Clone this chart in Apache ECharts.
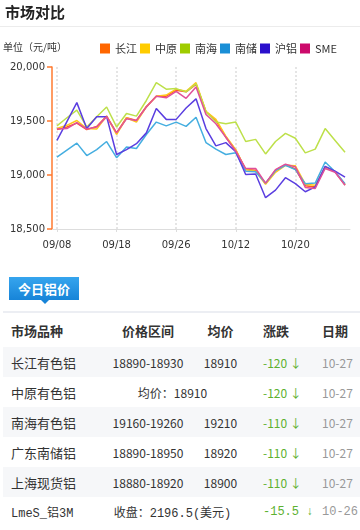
<!DOCTYPE html>
<html><head><meta charset="utf-8">
<script src="https://cdn.jsdelivr.net/npm/echarts@6/dist/echarts.min.js"></script>
<style>
body{margin:0;background:#fff;font-family:"Noto Sans CJK SC","Noto Sans",sans-serif;}
#page{position:relative;width:360px;height:530px;overflow:hidden;background:#fff;}
#chart{position:absolute;left:0;top:0;width:360px;height:262px;}
#title{position:absolute;left:5px;top:1px;font-size:15px;font-weight:bold;color:#222;line-height:22px;}
#sep{position:absolute;left:0;top:26px;width:360px;height:1px;background:#ececec;}
#unit{position:absolute;left:3px;top:40px;font-size:10px;color:#333;line-height:13px;}
#tab{position:absolute;left:9px;top:277px;width:70px;height:23px;background:linear-gradient(#36a5ee,#1784d8);color:#fff;font-weight:bold;font-size:13px;line-height:23px;text-align:center;}
#tab:after{content:"";position:absolute;left:32px;top:23px;border-left:4px solid transparent;border-right:4px solid transparent;border-top:4px solid #1784d8;}
#tline{position:absolute;left:3px;top:311px;width:357px;height:2px;background:#eceef3;}
table{position:absolute;left:3px;top:313px;width:357px;border-collapse:collapse;table-layout:fixed;}
td{padding:0;height:30px;font-size:12px;color:#333;white-space:nowrap;}
tr.head td{height:34px;font-size:13px;font-weight:bold;color:#333;}
tr.g td{background:#f6f7f9;}
td.c1{padding-left:8px;font-size:13px;}
td.c2{text-align:center;}
td.c3{text-align:center;}
td.c4{padding-left:18px;}
td.c5{padding-left:12px;}
td.up{color:#5db130;}
td.dt{color:#999;}
tr.head td.c2,tr.head td.c3{text-align:center;}
tr.mono td{font-family:"Liberation Mono","Noto Sans CJK SC",monospace;}
tr.mono td.c1{font-size:12px;}
</style></head>
<body><div id="page">
<div id="chart"></div>
<div id="title">市场对比</div>
<div id="sep"></div>
<div id="unit">单位（元/吨）</div>
<div id="tab">今日铝价</div>
<div id="tline"></div>
<table id="tbl">
<colgroup><col style="width:97px"><col style="width:96px"><col style="width:49px"><col style="width:65px"><col style="width:50px"></colgroup>
<tbody id="tb"></tbody></table>
</div>
<script>
const dates = ['09/08','09/09','09/10','09/11','09/14','09/16','09/18','09/21','09/22','09/23','09/24','09/25','09/26','09/27','09/28','09/29','09/30','10/09','10/12','10/13','10/14','10/15','10/16','10/19','10/20','10/21','10/22','10/23','10/26','10/27'];
const seriesNames = ['长江','中原','南海','南储','沪铝','SME'];
const changjiang = [19420,19445,19480,19420,19450,19545,19390,19530,19505,19635,19730,19730,19785,19770,19840,19585,19505,19350,19230,19050,19045,18920,19045,19095,19055,18900,18890,19075,19030,18910];
const zhongyuan = [19430,19460,19505,19430,19425,19545,19375,19530,19490,19630,19730,19740,19795,19775,19855,19590,19515,19360,19235,19050,19035,18915,19025,19090,19085,18915,18905,19070,19030,18910];
const nanhai = [19455,19530,19600,19445,19540,19630,19445,19570,19545,19690,19855,19795,19800,19770,19845,19585,19490,19475,19490,19310,19330,19195,19310,19385,19340,19205,19240,19430,19320,19210];
const nanchu = [19165,19230,19295,19180,19235,19310,19160,19260,19245,19375,19490,19455,19490,19450,19535,19300,19240,19190,19205,19035,19030,18925,19040,19090,19050,18920,18925,19120,19030,18920];
const hulv = [19320,19495,19670,19430,19540,19540,19190,19235,19290,19390,19615,19515,19515,19620,19705,19430,19270,19300,19215,19005,19010,18790,18860,18975,18920,18845,18890,19080,19035,18980];
const sme = [19425,19430,19485,19425,19445,19540,19390,19520,19505,19630,19730,19715,19775,19710,19815,19560,19475,19350,19220,19060,19060,18925,19050,19100,19075,18885,18875,19060,19025,18905];
const yMin = 18500, yMax = 20000, yStep = 500;

const tableHead = ['市场品种','价格区间','均价','涨跌','日期'];
const tableNames = ['长江有色铝','中原有色铝','南海有色铝','广东南储铝','上海现货铝','LmeS_铝3M'];
const tableRanges = ['18890-18930','均价：18910','19160-19260','18890-18950','18880-18920','收盘：2196.5(美元)'];
const tableAvgs = ['18910','','19210','18920','18900',''];
const tableChanges = ['-120','-120','-110','-110','-110','-15.5'];
const tableDates = ['10-27','10-27','10-27','10-27','10-27','10-26'];

const legendColors = ['#ff6600','#ffcc00','#9fcc00','#1a8fd6','#2a10cc','#cc0a6b'];
const lineColors = ['#ff5522','#ffc61a','#bde04a','#45aee0','#5a3ee0','#e0509a'];
const allData = [changjiang, zhongyuan, nanhai, nanchu, hulv, sme];

const chart = echarts.init(document.getElementById('chart'), null, {renderer:'canvas'});
chart.setOption({
  animation:false,
  backgroundColor:'transparent',
  legend:{
    left:95, top:38, icon:'rect', itemWidth:10, itemHeight:10, itemGap:3,
    textStyle:{fontSize:11, color:'#333', fontFamily:'Noto Sans CJK SC'},
    data: seriesNames.map((n,i)=>({name:n, itemStyle:{color:legendColors[i]}}))
  },
  grid:{left:52, right:10, top:67, height:162, containLabel:false},
  xAxis:{
    type:'category', data:dates, boundaryGap:true,
    axisLine:{lineStyle:{color:'#dddddd', width:1}},
    axisTick:{show:true, alignWithLabel:true, interval:5, length:3, lineStyle:{color:'#dddddd'}},
    axisLabel:{interval:5, color:'#333', fontSize:10, fontFamily:'DejaVu Sans', margin:11},
    splitLine:{show:true, alignWithLabel:true, interval:5, lineStyle:{color:'#dddddd', type:[2,2], width:1.5}}
  },
  yAxis:{
    type:'value', min:yMin, max:yMax, interval:yStep,
    axisLine:{show:true, lineStyle:{color:'#ff7a2f', width:1.5}},
    axisTick:{show:true, length:5, lineStyle:{color:'#ff7a2f', width:1.5}},
    axisLabel:{color:'#333', fontSize:10, fontFamily:'DejaVu Sans', margin:7,
      formatter:v=>v.toLocaleString('en-US')},
    splitLine:{show:false}
  },
  series: seriesNames.map((n,i)=>({
    name:n, type:'line', data:allData[i], showSymbol:false, symbol:'none',
    itemStyle:{color:legendColors[i]},
    lineStyle:{color:lineColors[i], width:1.5}
  }))
});

const tb = document.getElementById('tb');
let html = '<tr class="head">' + tableHead.map((h,i)=>'<td class="c'+(i+1)+'">'+h+'</td>').join('') + '</tr>';
tableNames.forEach((name,i)=>{
  const cls = (i%2===0?'g':'') + (i===tableNames.length-1?' mono':'');
  let r = '<tr class="'+cls+'"><td class="c1">'+name+'</td>';
  if (tableAvgs[i]==='') r += '<td class="c2" colspan="2">'+tableRanges[i]+'</td>';
  else r += '<td class="c2">'+tableRanges[i]+'</td><td class="c3">'+tableAvgs[i]+'</td>';
  r += '<td class="c4 up">'+tableChanges[i]+' ↓</td><td class="c5 dt">'+tableDates[i]+'</td></tr>';
  html += r;
});
tb.innerHTML = html;
</script>
</body></html>
